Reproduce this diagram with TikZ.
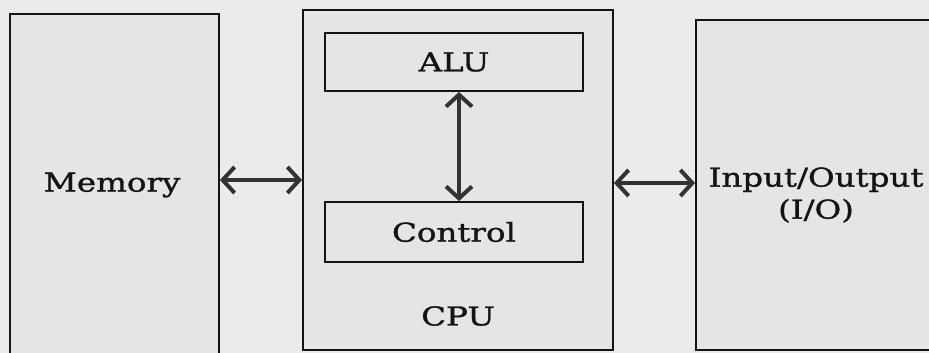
\documentclass[tikz,border=0pt]{standalone}
\usepackage{fontspec}
\newfontfamily\diagfont{DejaVu Serif}[FakeStretch=1.25,FakeBold=1.2]
\usetikzlibrary{arrows.meta}
\definecolor{paper}{HTML}{EBEBEB}
\definecolor{boxfill}{HTML}{E5E5E5}
\definecolor{ink}{HTML}{141414}
\definecolor{linkgray}{HTML}{333333}
\tikzset{
  unitbox/.style={draw=ink, line width=1.8pt, fill=boxfill, rectangle, inner sep=0pt},
  lbl/.style={font=\diagfont\fontsize{26}{31}\selectfont, text=ink, inner sep=0pt, align=center},
  link/.style={draw=linkgray, line width=4pt,
    {Straight Barb[length=12pt,width=26pt]}-{Straight Barb[length=12pt,width=26pt]}}
}
\begin{document}
\begin{tikzpicture}[x=1pt,y=-1pt]
  % page area
  \fill[paper] (0,0) rectangle (929,353);
  \useasboundingbox (0,0) rectangle (929,353);

  % main units
  \node[unitbox, minimum width=209pt, minimum height=360pt] (mem) at (114.5,194) {};
  \node[unitbox, minimum width=310pt, minimum height=340pt] (cpu) at (458,180) {};
  \node[unitbox, minimum width=250pt, minimum height=330pt] (io) at (821,185) {};

  % parts of the CPU
  \node[unitbox, minimum width=258pt, minimum height=58pt] (alu) at (454,62) {};
  \node[unitbox, minimum width=258pt, minimum height=60pt] (ctrl) at (454,232) {};

  % labels
  \node[lbl] (memtext) at (112,185) {Memory};
  \node[lbl] (alutext) at (alu.center) {ALU};
  \node[lbl] (ctrltext) at (ctrl.center) {Control};
  \node[lbl] (cputext) at (458,316) {CPU};
  \node[lbl] (iotext) at (816,195) {Input/Output\\[1pt](I/O)};

  % connections
  \draw[link] (cpu.west -| mem.east) -- (cpu.west);
  \draw[link] ([xshift=5pt]alu.south) -- ([xshift=5pt]ctrl.north);
  \draw[link] ([yshift=-3pt]cpu.east) -- ([yshift=-3pt]cpu.east -| io.west);
\end{tikzpicture}
\end{document}
